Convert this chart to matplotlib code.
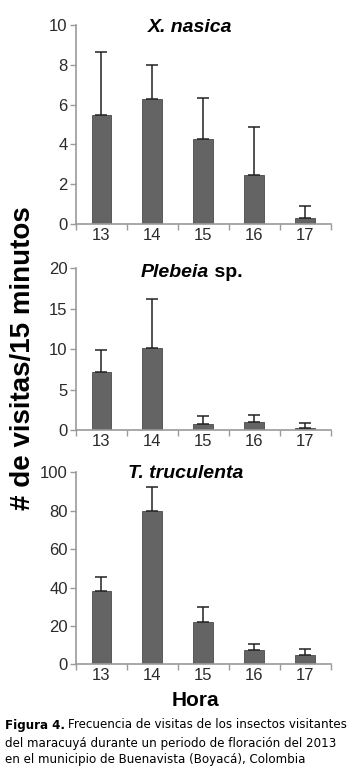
import matplotlib
matplotlib.use("Agg")
import matplotlib.pyplot as plt
import numpy as np

plt.rcParams['font.family'] = ['Liberation Sans', 'DejaVu Sans']

horas = ["13", "14", "15", "16", "17"]

nasica_mean = [5.5, 6.27, 4.26, 2.48, 0.29]
nasica_upper = [8.63, 7.97, 6.35, 4.89, 0.92]

plebeia_mean = [7.16, 10.2, 0.74, 0.99, 0.33]
plebeia_upper = [9.91, 16.17, 1.8, 1.89, 0.9]

trucu_mean = [38.2, 79.8, 22.0, 7.4, 4.7]
trucu_upper = [45.3, 92.2, 29.8, 10.7, 8.0]

titles = ["X. nasica", "Plebeia", "T. truculenta"]
ylims = [10, 20, 100]
yticks = [[0, 2, 4, 6, 8, 10], [0, 5, 10, 15, 20], [0, 20, 40, 60, 80, 100]]

fig = plt.figure(figsize=(3.56, 7.72), dpi=100)
W, H = 356, 772

def fa(x0, x1, ytop, ybot):
    return [x0 / W, 1 - ybot / H, (x1 - x0) / W, (ybot - ytop) / H]

rects = [fa(76, 330.5, 25, 224), fa(76, 330.5, 268.3, 430.3), fa(76, 330.5, 472.3, 664.3)]
means = [nasica_mean, plebeia_mean, trucu_mean]
uppers = [nasica_upper, plebeia_upper, trucu_upper]
title_px = [(190, 27), (192, 272.5), (185.5, 473.5)]

spine_c = '#9a9a9a'
x = np.arange(len(horas))
fig.canvas.draw()
r = fig.canvas.get_renderer()
for i in range(3):
    ax = fig.add_axes(rects[i])
    m = np.array(means[i]); u = np.array(uppers[i])
    ax.bar(x, m, width=0.39, color='#646464', edgecolor='#4a4a4a', linewidth=0.6, zorder=2)
    ax.errorbar(x, m, yerr=[np.zeros_like(m), u - m], fmt='none', ecolor='#222222',
                elinewidth=1.1, capsize=4.0, capthick=1.1, zorder=3)
    ax.set_xlim(-0.5, 4.5)
    ax.set_ylim(0, ylims[i])
    ax.set_yticks(yticks[i])
    ax.set_xticks(x)
    ax.set_xticklabels(horas)
    ax.set_xticks(np.arange(-0.5, 5, 1), minor=True)
    ax.tick_params(axis='x', which='major', length=0, pad=3, labelsize=12, labelcolor='#2a2a2a')
    ax.tick_params(axis='x', which='minor', length=4, color=spine_c, width=1)
    ax.tick_params(axis='y', length=4, color=spine_c, width=1, pad=2, labelsize=12, labelcolor='#2a2a2a')
    for s in ['top', 'right']:
        ax.spines[s].set_visible(False)
    for s in ['left', 'bottom']:
        ax.spines[s].set_color(spine_c)
        ax.spines[s].set_linewidth(1.2)
    cx, cy = title_px[i]
    if i == 1:
        t1 = fig.text(0, 1 - cy / H, "Plebeia", ha='left', va='center',
                      fontsize=14, fontweight='bold', fontstyle='italic')
        t2 = fig.text(0, 1 - cy / H, " sp.", ha='left', va='center',
                      fontsize=14, fontweight='bold')
        w1 = t1.get_window_extent(renderer=r).width
        w2 = t2.get_window_extent(renderer=r).width
        x0 = cx - (w1 + w2) / 2
        t1.set_x(x0 / W)
        t2.set_x((x0 + w1) / W)
    else:
        fig.text(cx / W, 1 - cy / H, titles[i], ha='center', va='center',
                 fontsize=14, fontweight='bold', fontstyle='italic')

fig.text(23 / W, 1 - 358 / H, "# de visitas/15 minutos", rotation=90, ha='center', va='center',
         fontsize=20, fontweight='bold')
fig.text(195 / W, 1 - 700 / H, "Hora", ha='center', va='center', fontsize=15, fontweight='bold')

cap_font = ['DejaVu Sans']
cs = 8.6
tb = fig.text(5 / W, 1 - 725 / H, "Figura 4.", ha='left', va='center', fontsize=cs,
              fontweight='bold', family=cap_font)
bb = tb.get_window_extent(renderer=r)
fig.text((bb.x1 + 3) / W, 1 - 725 / H, "Frecuencia de visitas de los insectos visitantes",
         ha='left', va='center', fontsize=cs, family=cap_font)
fig.text(5 / W, 1 - 743 / H, "del maracuyá durante un periodo de floración del 2013",
         ha='left', va='center', fontsize=cs, family=cap_font)
fig.text(5 / W, 1 - 760 / H, "en el municipio de Buenavista (Boyacá), Colombia",
         ha='left', va='center', fontsize=cs, family=cap_font)

fig.savefig("out.png", dpi=100)
